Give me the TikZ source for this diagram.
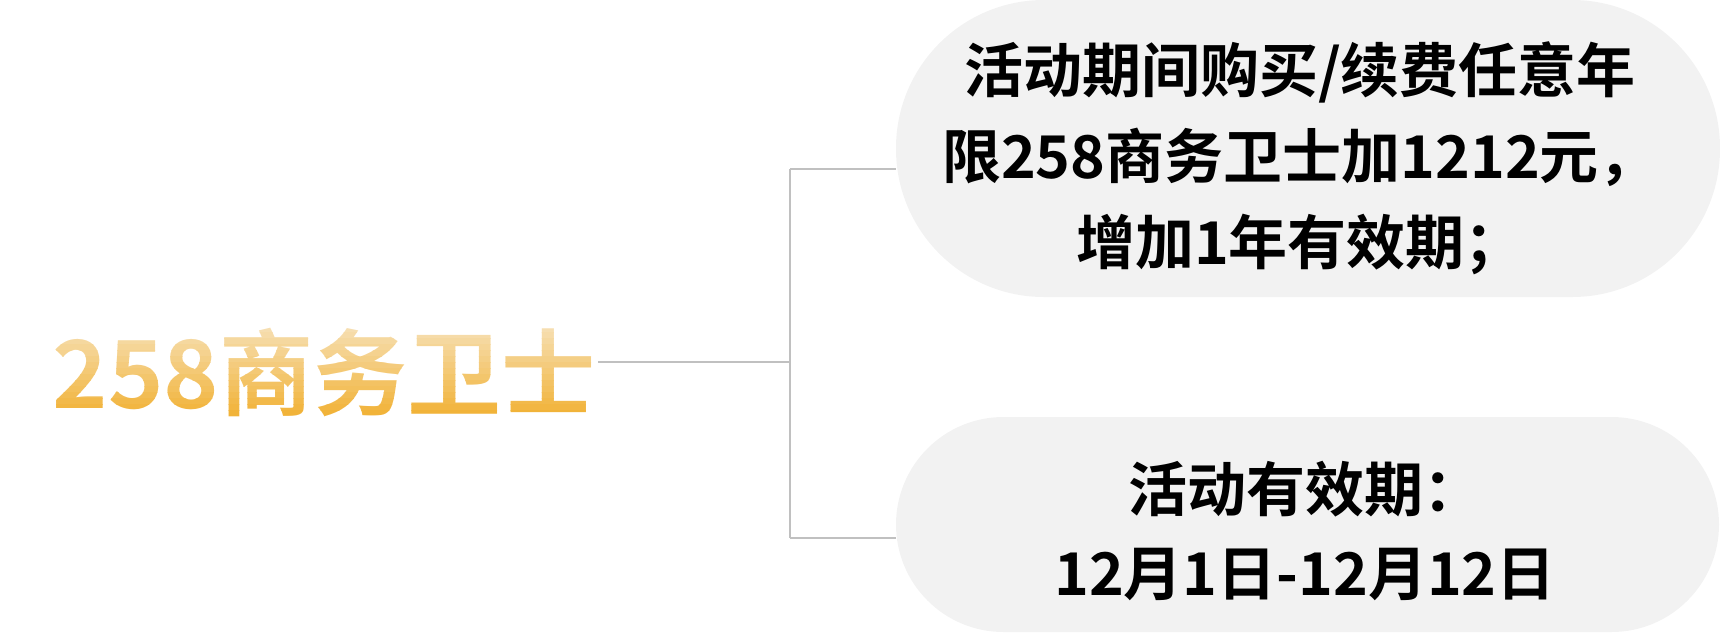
\documentclass[tikz,border=0pt]{standalone}
\usepackage{fontspec}
\newfontfamily\cjkfont{Noto Sans CJK SC}[BoldFont={Noto Sans CJK SC Bold}]
\definecolor{boxgray}{HTML}{F2F2F2}
\definecolor{linegray}{HTML}{C0C0C0}
\definecolor{goldtop}{HTML}{F6DEB0}
\definecolor{goldbot}{HTML}{F1B030}
\tikzset{
  pillbox/.style={fill=boxgray, draw=none},
  boxtext/.style={align=center, text=black, inner sep=0pt,
    font=\cjkfont\bfseries\fontsize{59}{86}\selectfont},
  boxtextb/.style={align=center, text=black, inner sep=0pt,
    font=\cjkfont\bfseries\fontsize{59}{84}\selectfont},
  titletext/.style={inner sep=0pt, font=\cjkfont\bfseries\fontsize{94}{110}\selectfont},
  conn/.style={draw=linegray, line width=1.2pt},
}
\begin{document}
\begin{tikzpicture}[x=1pt,y=-1pt]
  \useasboundingbox (0,0) rectangle (1720,641);
  % boxes
  \path[pillbox, rounded corners=148pt] (896,0) rectangle (1720,297);
  \node[minimum width=824pt, minimum height=297pt, inner sep=0pt] (b1) at (1308,148.5) {};
  \path[pillbox, rounded corners=107.5pt] (896,417) rectangle (1719,632);
  \node[minimum width=823pt, minimum height=215pt, inner sep=0pt] (b2) at (1307.5,524.5) {};
  % texts
  \node[boxtext] (t1) at (1300,158) {活动期间购买/续费任意年\\限258商务卫士加1212元，\\增加1年有效期；};
  \node[boxtextb] (t2) at (1305,531) {活动有效期：\\12月1日-12月12日};
  % title with vertical gradient (drawn in thin clipped bands)
  \node[titletext] (title) at (324,372) {\phantom{258商务卫士}};
  \foreach \i in {0,...,15}{
    \pgfmathtruncatemacro\p{\i*100/15}
    \pgfmathsetmacro\ya{ifthenelse(\i==0,300,326+\i*6)}
    \pgfmathsetmacro\yb{ifthenelse(\i==15,460,332.5+\i*6)}
    \begin{scope}
      \clip (0,\ya) rectangle (700,\yb);
      \node[titletext, text=goldbot!\p!goldtop] at (title.center) {258商务卫士};
    \end{scope}
  }
  % connectors
  \coordinate (jm) at (790,362);
  \coordinate (jt) at (790,169);
  \coordinate (jb) at (790,538);
  \draw[conn] (598,362) -- (jm);
  \draw[conn] (jt) -- (jb);
  \draw[conn] (jt) -- (jt -| b1.west);
  \draw[conn] (jb) -- (jb -| b2.west);
\end{tikzpicture}
\end{document}
